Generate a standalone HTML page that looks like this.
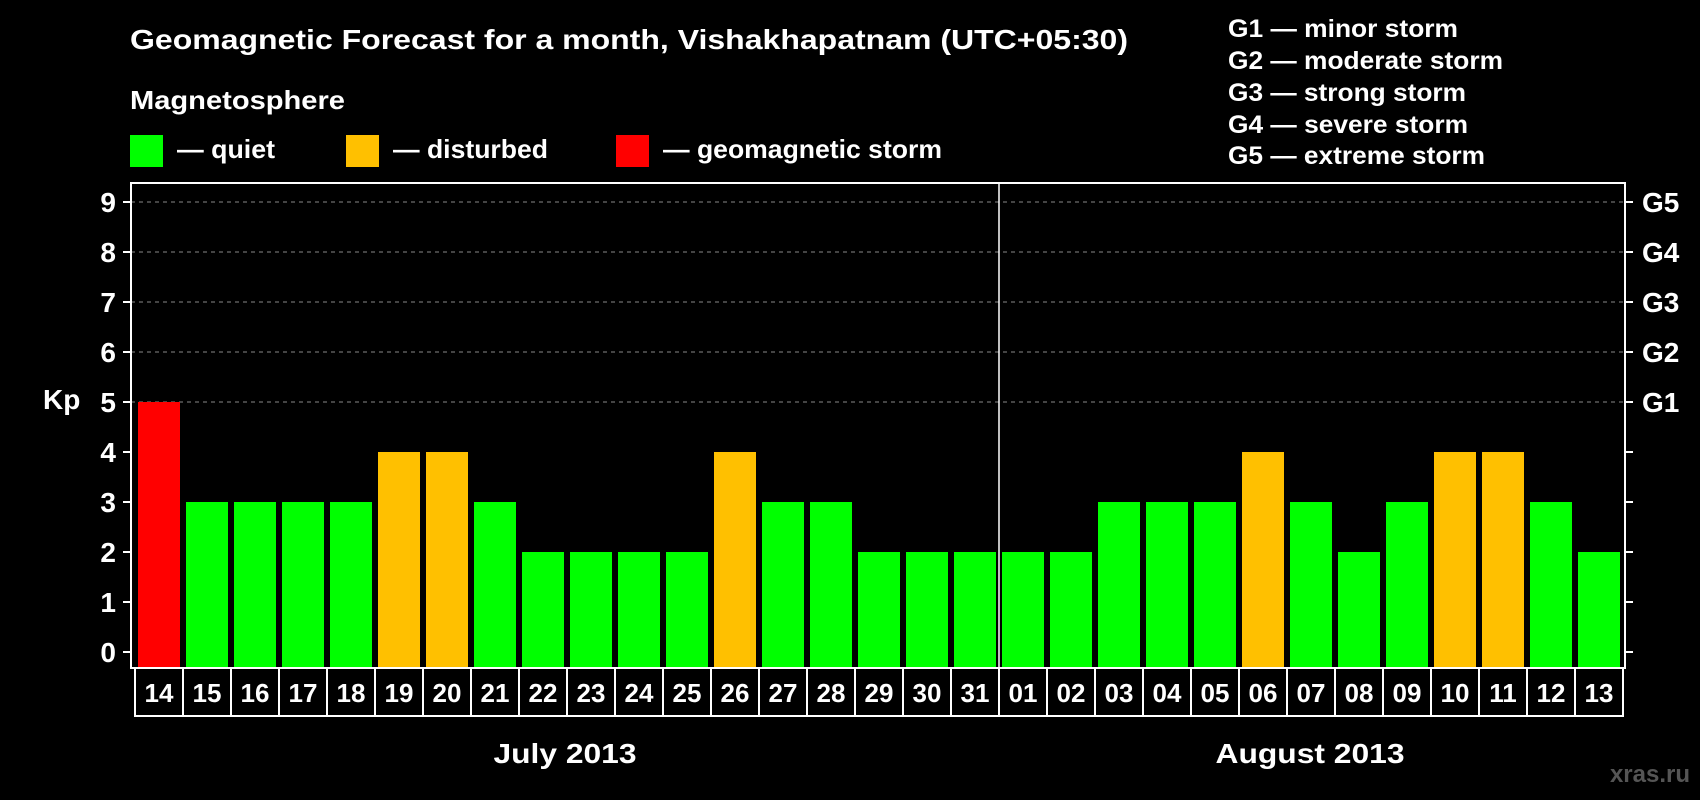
<!DOCTYPE html>
<html><head><meta charset="utf-8"><style>
html,body{margin:0;padding:0;background:#000;}
svg{display:block;font-family:"Liberation Sans",Arial,sans-serif;font-weight:bold;}
</style></head><body>
<svg id="chart" width="1700" height="800" viewBox="0 0 1700 800">
<rect width="1700" height="800" fill="#000"/>
<text x="130" y="49" fill="#fff" font-size="28" textLength="998" lengthAdjust="spacingAndGlyphs">Geomagnetic Forecast for a month, Vishakhapatnam (UTC+05:30)</text>
<text x="130" y="109" fill="#fff" font-size="26" textLength="215" lengthAdjust="spacingAndGlyphs">Magnetosphere</text>
<g>
<rect x="130" y="135" width="33" height="32" fill="#00ff00"/>
<text x="177" y="158" fill="#fff" font-size="26" textLength="98" lengthAdjust="spacingAndGlyphs">— quiet</text></g>
<g>
<rect x="346" y="135" width="33" height="32" fill="#ffc000"/>
<text x="393" y="158" fill="#fff" font-size="26" textLength="155" lengthAdjust="spacingAndGlyphs">— disturbed</text></g>
<g>
<rect x="616" y="135" width="33" height="32" fill="#ff0000"/>
<text x="663" y="158" fill="#fff" font-size="26" textLength="279" lengthAdjust="spacingAndGlyphs">— geomagnetic storm</text></g>
<g font-size="25" fill="#fff">
<text x="1228" y="37" textLength="230" lengthAdjust="spacingAndGlyphs">G1 — minor storm</text>
<text x="1228" y="69" textLength="275" lengthAdjust="spacingAndGlyphs">G2 — moderate storm</text>
<text x="1228" y="101" textLength="238" lengthAdjust="spacingAndGlyphs">G3 — strong storm</text>
<text x="1228" y="133" textLength="240" lengthAdjust="spacingAndGlyphs">G4 — severe storm</text>
<text x="1228" y="164" textLength="257" lengthAdjust="spacingAndGlyphs">G5 — extreme storm</text>
</g>
<text x="43" y="409" fill="#fff" font-size="28">Kp</text>
<g id="plot"></g>
<text x="565" y="763" fill="#fff" font-size="28" text-anchor="middle" textLength="143" lengthAdjust="spacingAndGlyphs">July 2013</text>
<text x="1310" y="763" fill="#fff" font-size="28" text-anchor="middle" textLength="189" lengthAdjust="spacingAndGlyphs">August 2013</text>
<text x="1690" y="782" fill="#555" font-size="24" text-anchor="end">xras.ru</text>
</svg>
<script>
const days = ["14","15","16","17","18","19","20","21","22","23","24","25","26","27","28","29","30","31","01","02","03","04","05","06","07","08","09","10","11","12","13"];
const kpValues = [5,3,3,3,3,4,4,3,2,2,2,2,4,3,3,2,2,2,2,2,3,3,3,4,3,2,3,4,4,3,2];
const yTicks = [0,1,2,3,4,5,6,7,8,9];
const gLabels = ["G1","G2","G3","G4","G5"];
const gLevels = [5,6,7,8,9];
const monthBreakIndex = 18;

const NS = "http://www.w3.org/2000/svg";
const plot = document.getElementById("plot");
const L = 131, R = 1625, T = 183, B = 668;
const y0 = 652, unit = (652 - 202) / 9;
const x0 = 135, pitch = 48;
function yScale(v){ return y0 - v * unit; }
function xScale(i){ return x0 + i * pitch; }
function mk(tag, attrs){ const e = document.createElementNS(NS, tag); for (const k in attrs) e.setAttribute(k, attrs[k]); plot.appendChild(e); return e; }
function color(v){ return v >= 5 ? "#ff0000" : (v >= 4 ? "#ffc000" : "#00ff00"); }

gLevels.forEach(v => {
  const g = mk("line", {x1: L, x2: R, y1: yScale(v), y2: yScale(v), stroke: "#888", "stroke-width": 1, "stroke-dasharray": "4,4"});
  
  
});
kpValues.forEach((v, i) => {
  const b = mk("rect", {x: xScale(i) + 3, y: yScale(v), width: 42, height: B - yScale(v), fill: color(v)});
  
  
});
const fr = mk("rect", {x: L, y: T, width: R - L, height: B - T, fill: "none", stroke: "#fff", "stroke-width": 2});


const dv = mk("line", {x1: xScale(monthBreakIndex), x2: xScale(monthBreakIndex), y1: T, y2: B, stroke: "#fff", "stroke-width": 1.5});


yTicks.forEach(v => {
  const t = mk("line", {x1: L - 8, x2: L, y1: yScale(v), y2: yScale(v), stroke: "#fff", "stroke-width": 2});
  
  
  const t2 = mk("line", {x1: R, x2: R + 8, y1: yScale(v), y2: yScale(v), stroke: "#fff", "stroke-width": 2});
  
  
  const l = mk("text", {x: 116, y: yScale(v) + 10, fill: "#fff", "font-size": 28, "text-anchor": "end"});
  l.textContent = v;
  
  
});
gLabels.forEach((g, i) => {
  const l = mk("text", {x: 1642, y: yScale(gLevels[i]) + 10, fill: "#fff", "font-size": 28});
  l.textContent = g;
  
  
});
days.forEach((d, i) => {
  const r = mk("rect", {x: xScale(i), y: B, width: pitch, height: 48, fill: "none", stroke: "#fff", "stroke-width": 2});
  
  
  const t = mk("text", {x: xScale(i) + pitch / 2, y: B + 34, fill: "#fff", "font-size": 26, "text-anchor": "middle"});
  t.textContent = d;
  
  
});
</script>
</body></html>
